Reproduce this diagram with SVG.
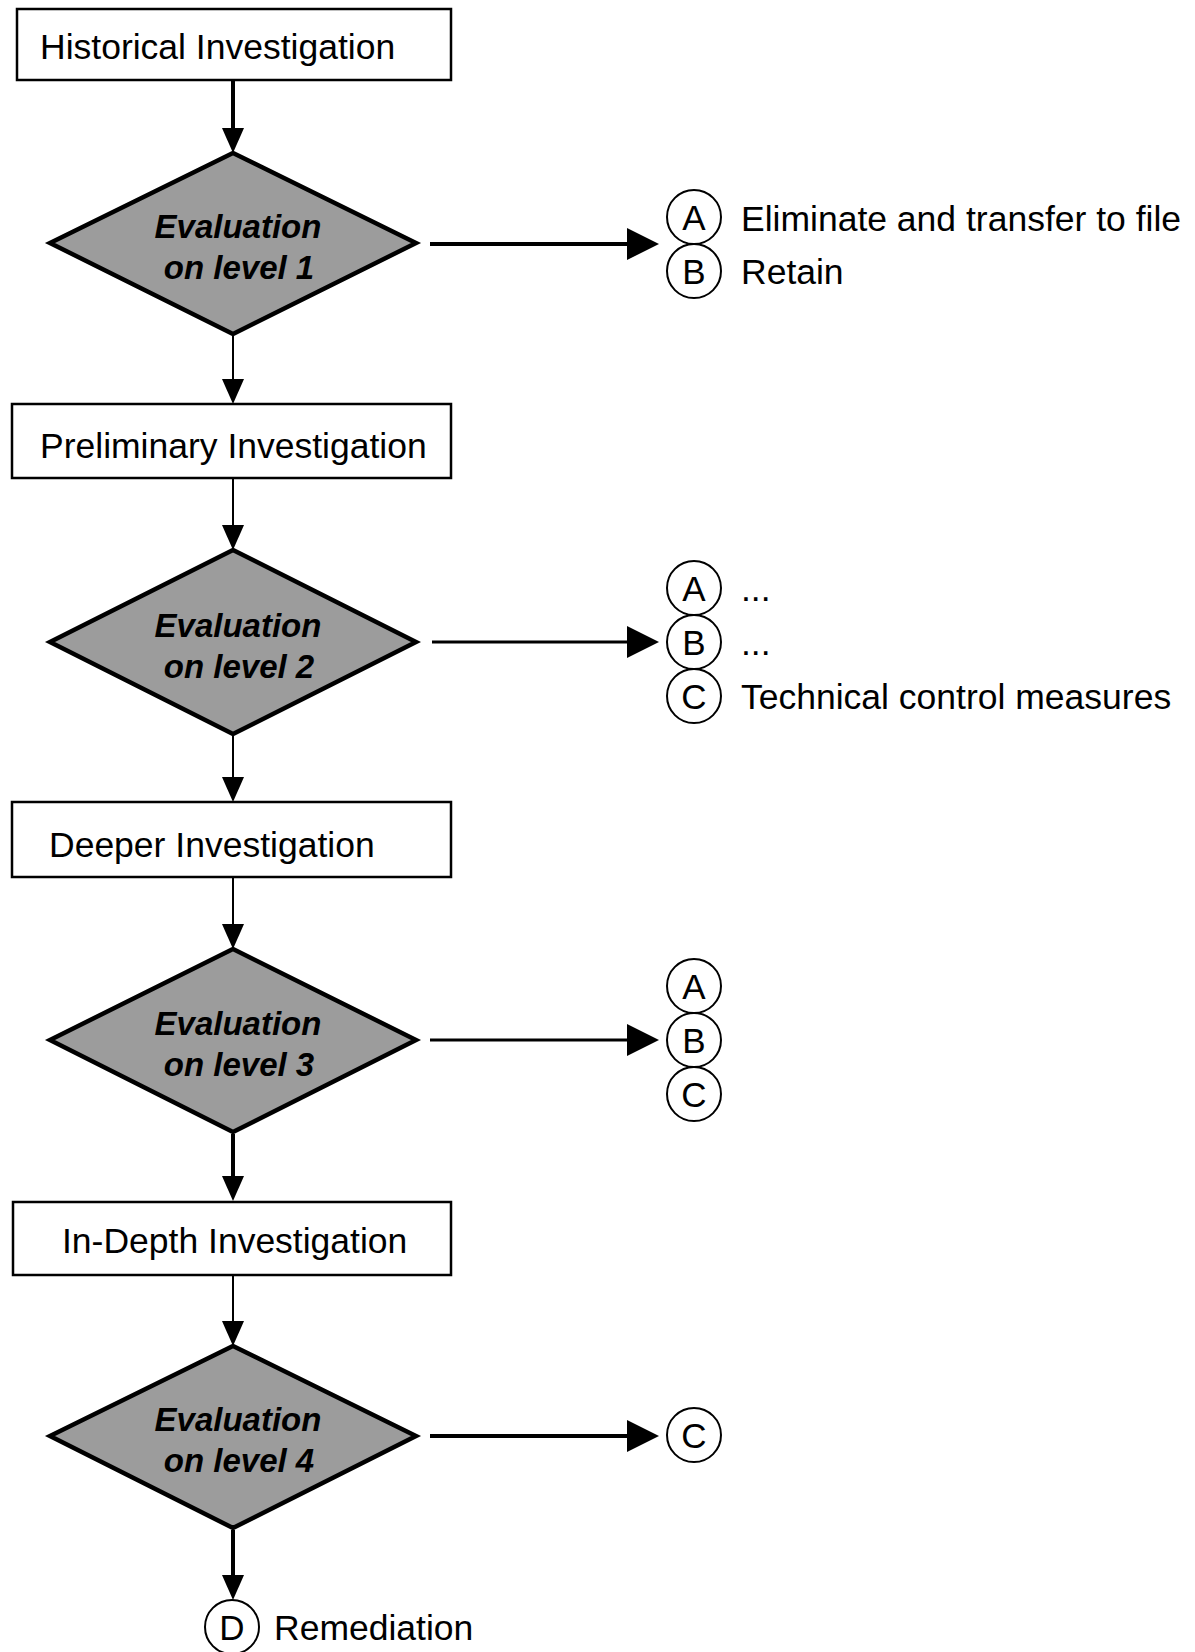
<svg xmlns="http://www.w3.org/2000/svg" width="1195" height="1652" viewBox="0 0 1195 1652">
<style>
.box{fill:#fff;stroke:#000;stroke-width:2.5}
.dia{fill:#9c9c9c;stroke:#000;stroke-width:4.5;stroke-linejoin:miter}
.t{font-family:"Liberation Sans",Arial,sans-serif;font-size:35.5px;fill:#000}
.dt{font-family:"Liberation Sans",Arial,sans-serif;font-size:33px;font-weight:bold;font-style:italic;fill:#000;text-anchor:middle}
.cir{fill:#fff;stroke:#000;stroke-width:2}
.cl{font-family:"Liberation Sans",Arial,sans-serif;font-size:35px;fill:#000;text-anchor:middle}
.thick{stroke:#000;stroke-width:4;fill:none}
.thin{stroke:#000;stroke-width:2;fill:none}
.mid{stroke:#000;stroke-width:3;fill:none}
</style>
<defs>
<marker id="av" markerUnits="userSpaceOnUse" markerWidth="25" markerHeight="22" viewBox="0 0 25 22" refX="0" refY="11" orient="auto"><path d="M0,0 L25,11 L0,22 z" fill="#000"/></marker>
<marker id="ah" markerUnits="userSpaceOnUse" markerWidth="32" markerHeight="32" viewBox="0 0 32 32" refX="0" refY="16" orient="auto"><path d="M0,0 L32,16 L0,32 z" fill="#000"/></marker>
</defs>
<rect width="1195" height="1652" fill="#fff"/>
<g id="connectors">
<line class="thick" x1="233" y1="80" x2="233" y2="128" marker-end="url(#av)"/>
<line class="thin" x1="233" y1="336" x2="233" y2="379" marker-end="url(#av)"/>
<line class="thin" x1="233" y1="479" x2="233" y2="525" marker-end="url(#av)"/>
<line class="thin" x1="233" y1="736" x2="233" y2="777" marker-end="url(#av)"/>
<line class="thin" x1="233" y1="877" x2="233" y2="924" marker-end="url(#av)"/>
<line class="thick" x1="233" y1="1134" x2="233" y2="1176" marker-end="url(#av)"/>
<line class="thin" x1="233" y1="1275" x2="233" y2="1321" marker-end="url(#av)"/>
<line class="thick" x1="233" y1="1530" x2="233" y2="1575" marker-end="url(#av)"/>
<line class="thick" x1="430" y1="244" x2="627" y2="244" marker-end="url(#ah)"/>
<line class="mid" x1="432" y1="642" x2="627" y2="642" marker-end="url(#ah)"/>
<line class="mid" x1="430" y1="1040" x2="627" y2="1040" marker-end="url(#ah)"/>
<line class="thick" x1="430" y1="1436" x2="627" y2="1436" marker-end="url(#ah)"/>
</g>
<g id="historical">
<rect class="box" x="17" y="9" width="434" height="71"/>
<text class="t" x="40" y="58.5">Historical Investigation</text>
</g>
<g id="eval1">
<polygon class="dia" points="233,153 416,243 233,334 50,243"/>
<text class="dt" x="238" y="238">Evaluation</text>
<text class="dt" x="239" y="279">on level 1</text>
</g>
<g id="out1">
<circle class="cir" cx="694" cy="217" r="27"/>
<text class="cl" x="694" y="230">A</text>
<circle class="cir" cx="694" cy="271" r="27"/>
<text class="cl" x="694" y="284">B</text>
<text class="t" x="741" y="231">Eliminate and transfer to file</text>
<text class="t" x="741" y="284">Retain</text>
</g>
<g id="preliminary">
<rect class="box" x="12" y="404" width="439" height="74"/>
<text class="t" x="40" y="457.5">Preliminary Investigation</text>
</g>
<g id="eval2">
<polygon class="dia" points="233,550 416,642 233,734 50,642"/>
<text class="dt" x="238" y="637">Evaluation</text>
<text class="dt" x="239" y="678">on level 2</text>
</g>
<g id="out2">
<circle class="cir" cx="694" cy="588" r="27"/>
<text class="cl" x="694" y="601">A</text>
<circle class="cir" cx="694" cy="642" r="27"/>
<text class="cl" x="694" y="655">B</text>
<circle class="cir" cx="694" cy="696" r="27"/>
<text class="cl" x="694" y="709">C</text>
<text class="t" x="741" y="601">...</text>
<text class="t" x="741" y="655">...</text>
<text class="t" x="741" y="709">Technical control measures</text>
</g>
<g id="deeper">
<rect class="box" x="12" y="802" width="439" height="75"/>
<text class="t" x="49" y="857">Deeper Investigation</text>
</g>
<g id="eval3">
<polygon class="dia" points="233,949 416,1040 233,1132 50,1040"/>
<text class="dt" x="238" y="1035">Evaluation</text>
<text class="dt" x="239" y="1076">on level 3</text>
</g>
<g id="out3">
<circle class="cir" cx="694" cy="986" r="27"/>
<text class="cl" x="694" y="999">A</text>
<circle class="cir" cx="694" cy="1040" r="27"/>
<text class="cl" x="694" y="1053">B</text>
<circle class="cir" cx="694" cy="1094" r="27"/>
<text class="cl" x="694" y="1107">C</text>
</g>
<g id="indepth">
<rect class="box" x="13" y="1202" width="438" height="73"/>
<text class="t" x="62" y="1252.5">In-Depth Investigation</text>
</g>
<g id="eval4">
<polygon class="dia" points="233,1346 416,1436 233,1528 50,1436"/>
<text class="dt" x="238" y="1431">Evaluation</text>
<text class="dt" x="239" y="1472">on level 4</text>
</g>
<g id="out4">
<circle class="cir" cx="694" cy="1435" r="27"/>
<text class="cl" x="694" y="1448">C</text>
</g>
<g id="remediation">
<circle class="cir" cx="232" cy="1627" r="27"/>
<text class="cl" x="232" y="1640">D</text>
<text class="t" x="274" y="1640">Remediation</text>
</g>
</svg>
